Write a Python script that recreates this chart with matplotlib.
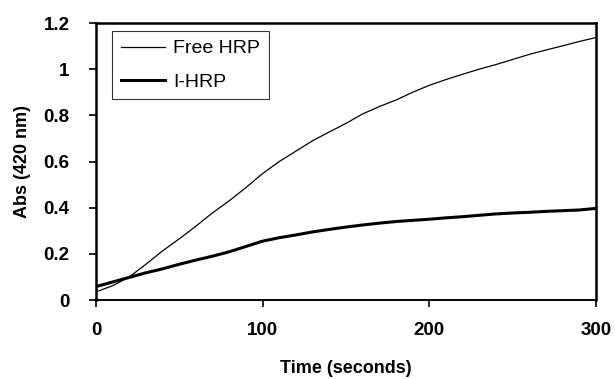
import matplotlib
matplotlib.use("Agg")
import matplotlib.pyplot as plt

plt.rcParams['font.family'] = ['Liberation Sans', 'DejaVu Sans']

# Data (every 10 s)
time_s = [0, 10, 20, 30, 40, 50, 60, 70, 80, 90, 100, 110, 120, 130, 140, 150,
          160, 170, 180, 190, 200, 210, 220, 230, 240, 250, 260, 270, 280, 290, 300]
free_hrp = [0.035, 0.062, 0.10, 0.155, 0.213, 0.265, 0.32, 0.378, 0.43, 0.487, 0.548,
            0.60, 0.645, 0.69, 0.728, 0.765, 0.806, 0.838, 0.866, 0.90, 0.93, 0.955,
            0.978, 1.0, 1.02, 1.042, 1.064, 1.083, 1.101, 1.12, 1.137]
i_hrp = [0.058, 0.078, 0.098, 0.118, 0.135, 0.155, 0.173, 0.19, 0.209, 0.232, 0.255,
         0.27, 0.282, 0.295, 0.306, 0.316, 0.325, 0.333, 0.34, 0.345, 0.35, 0.356,
         0.361, 0.367, 0.373, 0.377, 0.38, 0.384, 0.387, 0.39, 0.397]

x_ticks = [0, 100, 200, 300]
y_ticks = [0, 0.2, 0.4, 0.6, 0.8, 1.0, 1.2]
y_tick_labels = ['0', '0.2', '0.4', '0.6', '0.8', '1', '1.2']

fig = plt.figure(figsize=(6.15, 3.79), dpi=100)
ax = fig.add_axes([0.156, 0.2084, 0.813, 0.7309])

ax.plot(time_s, free_hrp, color='black', linewidth=0.9, label='Free HRP')
ax.plot(time_s, i_hrp, color='black', linewidth=2.2, label='I-HRP')

ax.set_xlim(0, 300)
ax.set_ylim(0, 1.2)
ax.set_xticks(x_ticks)
ax.set_yticks(y_ticks)
ax.set_yticklabels(y_tick_labels)

for side in ['left', 'top', 'right']:
    ax.spines[side].set_linewidth(1.8)
ax.spines['bottom'].set_linewidth(1.4)

ax.tick_params(axis='y', direction='out', length=5, width=1.2, pad=14, labelsize=13.5)
ax.tick_params(axis='x', direction='out', length=5, width=1.2, pad=11, labelsize=13.5)
for lbl in ax.get_xticklabels() + ax.get_yticklabels():
    lbl.set_fontweight('bold')

ax.set_xlabel('Time (seconds)', fontsize=13, fontweight='bold', labelpad=15)
ax.set_ylabel('Abs (420 nm)', fontsize=13, fontweight='bold', labelpad=9)

leg = ax.legend(loc='upper left', bbox_to_anchor=(0.032, 0.971), borderaxespad=0,
                fontsize=14, frameon=True, fancybox=False, edgecolor='black',
                handlelength=2.3, handletextpad=0.4, borderpad=0.45, labelspacing=0.8)
leg.get_frame().set_linewidth(0.8)

fig.savefig('out.png', dpi=100)
